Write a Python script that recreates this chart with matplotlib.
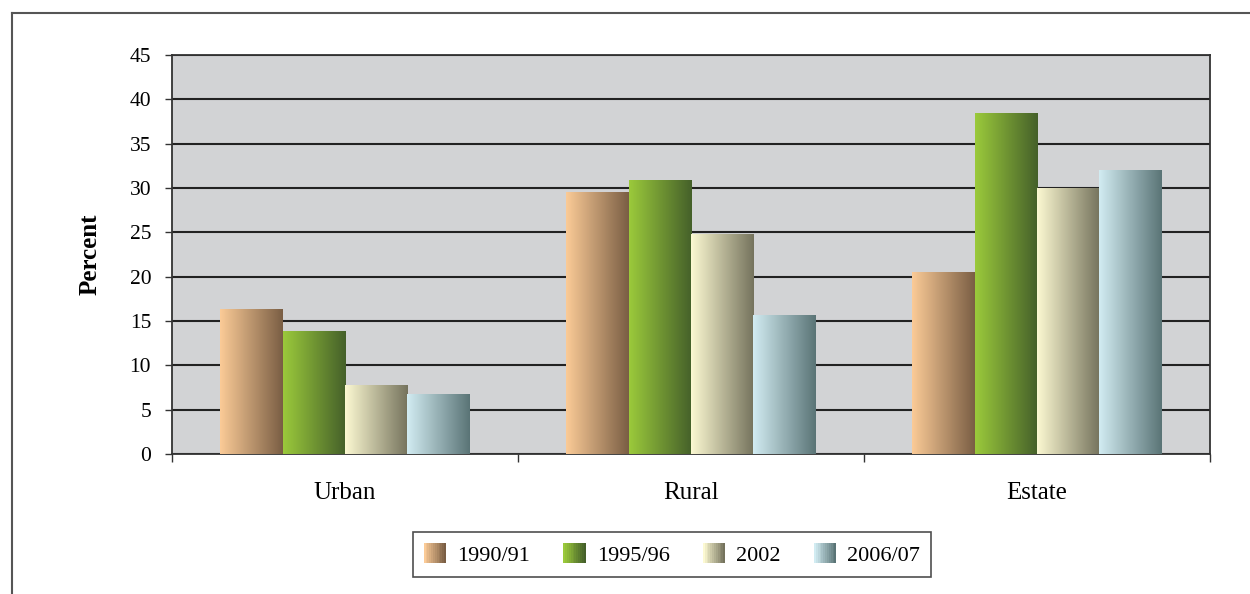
import matplotlib.pyplot as plt
import numpy as np
from matplotlib.patches import Rectangle
from matplotlib.lines import Line2D
from matplotlib.colors import LinearSegmentedColormap
from matplotlib.legend_handler import HandlerTuple

categories = ['Urban', 'Rural', 'Estate']
years = ['1990/91', '1995/96', '2002', '2006/07']
v1990 = [16.3, 29.5, 20.5]
v1995 = [13.9, 30.9, 38.5]
v2002 = [7.8, 24.8, 30.0]
v2006 = [6.8, 15.7, 32.0]
series = [v1990, v1995, v2002, v2006]

# gradient light (left) -> dark (right) for each series
grads = [('#FBCB97', '#7A5E44'),
         ('#9BCA3B', '#45602A'),
         ('#FCF9D2', '#75735D'),
         ('#D2ECF2', '#5A7476')]

plt.rcParams['font.family'] = ['Liberation Serif', 'DejaVu Serif']

fig = plt.figure(figsize=(12.5, 5.94), dpi=100)
ax = fig.add_axes([172/1250, 1-454/594, 1038/1250, 399/594])
ax.set_facecolor('#D2D3D5')

x = np.arange(len(categories))
w = 0.18
for i, vals in enumerate(series):
    cmap = LinearSegmentedColormap.from_list('g%d' % i, grads[i])
    bars = ax.bar(x + (i - 1.5)*w, vals, w, color='none', edgecolor='none', zorder=3)
    grad = np.linspace(0, 1, 256).reshape(1, -1)
    for b in bars:
        bx, by, bw, bh = b.get_x(), b.get_y(), b.get_width(), b.get_height()
        im = ax.imshow(grad, cmap=cmap, aspect='auto', extent=(bx, bx+bw, by, by+bh),
                       zorder=3, interpolation='bilinear')
        im.set_clip_path(b)

ax.set_xlim(-0.5, 2.5)
ax.set_ylim(0, 45)
ax.set_yticks(np.arange(0, 46, 5))
ax.yaxis.grid(True, color='#222222', linewidth=1.5, zorder=1)
ax.set_axisbelow(True)
ax.tick_params(axis='y', labelsize=15.5, length=5, width=1, pad=10, color='#333333')

ax.set_xticks([-0.5, 0.5, 1.5, 2.5])
ax.set_xticklabels([])
ax.tick_params(axis='x', which='major', length=6, width=1, color='#333333')
ax.set_xticks(x, minor=True)
ax.set_xticklabels(categories, minor=True, fontsize=18)
ax.tick_params(axis='x', which='minor', length=0, pad=20)

for s in ax.spines.values():
    s.set_color('#333333')
    s.set_linewidth(1.3)

ax.set_ylabel('Percent', fontsize=18, fontweight='bold', labelpad=20)

# legend with gradient swatches
handles = []
for lo, hi in grads:
    cmap = LinearSegmentedColormap.from_list('h', [lo, hi])
    handles.append(tuple(Rectangle((0, 0), 1, 1, facecolor=cmap(t), edgecolor='none')
                         for t in np.linspace(0, 1, 12)))
leg = fig.legend(handles, years, loc='center', bbox_to_anchor=(672/1250, 1-554.5/594),
                 ncol=4, fontsize=16, frameon=True, fancybox=False, edgecolor='#222222',
                 handler_map={tuple: HandlerTuple(ndivide=None, pad=0)},
                 handlelength=1.0, handleheight=1.0, handletextpad=0.5,
                 columnspacing=1.5, borderpad=0.5, borderaxespad=0)
leg.get_frame().set_linewidth(1.2)

# outer frame lines
fig.add_artist(Line2D([12/1250, 1], [1-13/594, 1-13/594], color='#555555', linewidth=1.5))
fig.add_artist(Line2D([12/1250, 12/1250], [0, 1-13/594], color='#555555', linewidth=1.5))

fig.savefig('out.png', dpi=100)
